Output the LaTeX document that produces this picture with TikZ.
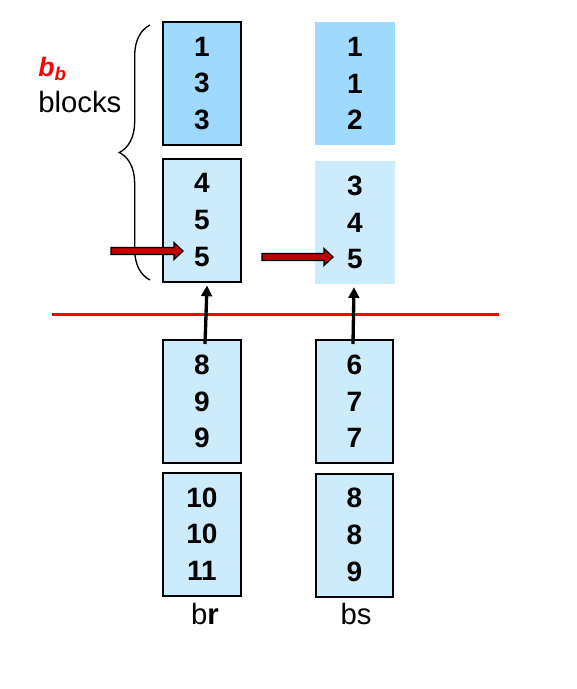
\documentclass[tikz,border=0pt]{standalone}
\usepackage{fontspec}
\setmainfont{Liberation Sans}
\usetikzlibrary{calc,arrows.meta,decorations.pathreplacing}
\definecolor{darkblue}{HTML}{9FD9FE}
\definecolor{lightblue}{HTML}{CCEBFD}
\definecolor{arrowred}{HTML}{C00000}
\newcommand\redarrow[2]{%
  \draw[redarr] ($(#1)+(0,-3.5)$) -- ($(#2)+(-9,-3.5)$) -- ($(#2)+(-9,-8.5)$) -- (#2)
    -- ($(#2)+(-9,8.5)$) -- ($(#2)+(-9,3.5)$) -- ($(#1)+(0,3.5)$) -- cycle;}
\begin{document}
\begin{tikzpicture}[x=0.75pt,y=-0.75pt,
  blk/.style={rectangle, minimum height=92.25pt, inner sep=0pt, align=center,
    font=\bfseries\fontsize{21}{27.5}\selectfont},
  bordered/.style={blk, draw=black, line width=1.5pt, fill=lightblue, minimum width=58.5pt},
  dark/.style={blk, fill=darkblue, minimum width=60pt},
  light/.style={blk, fill=lightblue, minimum width=60pt},
  redarr/.style={fill=arrowred, draw=black, line width=0.9pt, line join=miter},
  uparr/.style={line width=2.5pt, -{Triangle[length=8pt,width=8pt]}},
  lbl/.style={font=\fontsize{22}{26}\selectfont, inner sep=0pt}]
\useasboundingbox (0,0) rectangle (577,689);
% left column (br)
\node[bordered, fill=darkblue] (l1) at (202,83.5) {1\\3\\3};
\node[bordered] (l2) at (202,220) {4\\5\\5};
\node[bordered] (l3) at (202,401.5) {8\\9\\9};
\node[bordered] (l4) at (202,534) {10\\10\\11};
% right column (bs)
\node[dark] (r1) at (355,83.5) {1\\1\\2};
\node[light] (r2) at (355,222.5) {3\\4\\5};
\node[bordered, minimum width=57.75pt] (r3) at (354.5,401.5) {6\\7\\7};
\node[bordered, minimum width=57.75pt] (r4) at (354.5,535) {8\\8\\9};
% labels
\node[lbl, anchor=base] (br) at (205,624) {b\textbf{r}};
\node[lbl, anchor=base] (bs) at (356,624) {bs};
\node[lbl, anchor=base west, text=red, font=\bfseries\itshape\fontsize{20}{24}\selectfont] (bb) at (38,76) {b\textsubscript{b}};
\node[lbl, anchor=base west] (blocks) at (38,112) {blocks};
% brace
\coordinate (brtop) at (150,25);
\coordinate (brbot) at (150,280);
\draw[line width=1pt, decorate, decoration={brace, amplitude=23pt}] (brbot) -- (brtop);
% red separator line
\coordinate (sepL) at (52,314);
\coordinate (sepR) at (499,314);
\draw[red, line width=2.25pt] (sepL) -- (sepR);
% red fat arrows
\coordinate (ta1) at (111,251);
\coordinate (tp1) at (183,251);
\coordinate (ta2) at (262,257);
\coordinate (tp2) at (333,257);
\redarrow{ta1}{tp1}
\redarrow{ta2}{tp2}
% black up arrows
\draw[uparr] ($(l3.north)+(3,5)$) -- ($(l2.south)+(5,3)$);
\draw[uparr] ($(r3.north)+(-1.5,5)$) -- ($(r2.south)+(-1,3)$);
\end{tikzpicture}
\end{document}
